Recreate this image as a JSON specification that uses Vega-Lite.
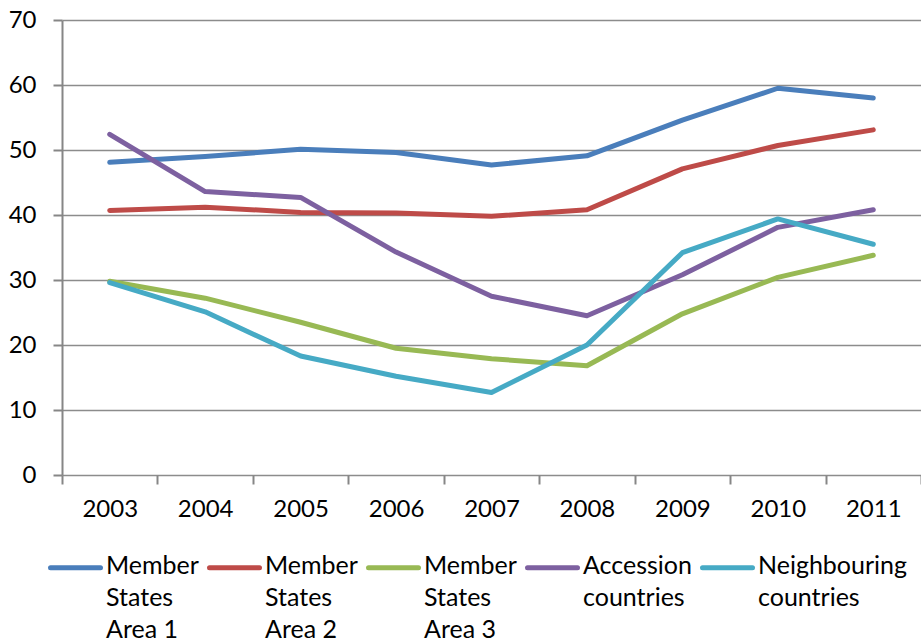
{
  "$schema": "https://vega.github.io/schema/vega-lite/v6.json",
  "width": 859,
  "height": 455,
  "autosize": {"type": "none"},
  "padding": {"left": 62, "top": 20, "right": 0, "bottom": 168},
  "background": "white",
  "config": {
    "view": {"stroke": null},
    "font": "Lato",
    "axis": {
      "labelFont": "Lato",
      "labelFontSize": 24,
      "labelColor": "#000000",
      "domainColor": "#868686",
      "domainWidth": 2,
      "tickColor": "#868686",
      "tickWidth": 2,
      "tickSize": 9,
      "gridColor": "#8c8c8c",
      "gridWidth": 1.6,
      "title": null
    }
  },
  "data": {
    "values": [
      {"year": "2003", "series": "Member|States|Area 1", "value": 48.1},
      {"year": "2004", "series": "Member|States|Area 1", "value": 49.0},
      {"year": "2005", "series": "Member|States|Area 1", "value": 50.1},
      {"year": "2006", "series": "Member|States|Area 1", "value": 49.6},
      {"year": "2007", "series": "Member|States|Area 1", "value": 47.7},
      {"year": "2008", "series": "Member|States|Area 1", "value": 49.1},
      {"year": "2009", "series": "Member|States|Area 1", "value": 54.6},
      {"year": "2010", "series": "Member|States|Area 1", "value": 59.5},
      {"year": "2011", "series": "Member|States|Area 1", "value": 58.0},
      {"year": "2003", "series": "Member|States|Area 2", "value": 40.7},
      {"year": "2004", "series": "Member|States|Area 2", "value": 41.2},
      {"year": "2005", "series": "Member|States|Area 2", "value": 40.4},
      {"year": "2006", "series": "Member|States|Area 2", "value": 40.3},
      {"year": "2007", "series": "Member|States|Area 2", "value": 39.8},
      {"year": "2008", "series": "Member|States|Area 2", "value": 40.8},
      {"year": "2009", "series": "Member|States|Area 2", "value": 47.1},
      {"year": "2010", "series": "Member|States|Area 2", "value": 50.7},
      {"year": "2011", "series": "Member|States|Area 2", "value": 53.1},
      {"year": "2003", "series": "Member|States|Area 3", "value": 29.8},
      {"year": "2004", "series": "Member|States|Area 3", "value": 27.2},
      {"year": "2005", "series": "Member|States|Area 3", "value": 23.5},
      {"year": "2006", "series": "Member|States|Area 3", "value": 19.5},
      {"year": "2007", "series": "Member|States|Area 3", "value": 17.9},
      {"year": "2008", "series": "Member|States|Area 3", "value": 16.8},
      {"year": "2009", "series": "Member|States|Area 3", "value": 24.8},
      {"year": "2010", "series": "Member|States|Area 3", "value": 30.4},
      {"year": "2011", "series": "Member|States|Area 3", "value": 33.8},
      {"year": "2003", "series": "Accession|countries", "value": 52.4},
      {"year": "2004", "series": "Accession|countries", "value": 43.6},
      {"year": "2005", "series": "Accession|countries", "value": 42.7},
      {"year": "2006", "series": "Accession|countries", "value": 34.3},
      {"year": "2007", "series": "Accession|countries", "value": 27.5},
      {"year": "2008", "series": "Accession|countries", "value": 24.5},
      {"year": "2009", "series": "Accession|countries", "value": 30.8},
      {"year": "2010", "series": "Accession|countries", "value": 38.1},
      {"year": "2011", "series": "Accession|countries", "value": 40.8},
      {"year": "2003", "series": "Neighbouring|countries", "value": 29.6},
      {"year": "2004", "series": "Neighbouring|countries", "value": 25.1},
      {"year": "2005", "series": "Neighbouring|countries", "value": 18.3},
      {"year": "2006", "series": "Neighbouring|countries", "value": 15.2},
      {"year": "2007", "series": "Neighbouring|countries", "value": 12.7},
      {"year": "2008", "series": "Neighbouring|countries", "value": 20.0},
      {"year": "2009", "series": "Neighbouring|countries", "value": 34.2},
      {"year": "2010", "series": "Neighbouring|countries", "value": 39.4},
      {"year": "2011", "series": "Neighbouring|countries", "value": 35.5}
    ]
  },
  "mark": {"type": "line", "strokeWidth": 5, "strokeCap": "round", "strokeJoin": "round"},
  "encoding": {
    "x": {
      "field": "year",
      "type": "ordinal",
      "bandPosition": 0.5,
      "scale": {"type": "band", "paddingInner": 0, "paddingOuter": 0},
      "axis": {
        "labelAngle": 0,
        "tickBand": "extent",
        "labelPadding": 13,
        "labelBaseline": "top",
        "grid": false,
        "domain": false,
        "zindex": 1
      }
    },
    "y": {
      "field": "value",
      "type": "quantitative",
      "scale": {"domain": [0, 70], "nice": false},
      "axis": {
        "values": [0, 10, 20, 30, 40, 50, 60, 70],
        "grid": true,
        "labelPadding": 17,
        "domain": true
      }
    },
    "color": {
      "field": "series",
      "type": "nominal",
      "sort": null,
      "scale": {
        "domain": ["Member|States|Area 1", "Member|States|Area 2", "Member|States|Area 3", "Accession|countries", "Neighbouring|countries"],
        "range": ["#4a7ebb", "#be4b48", "#98b954", "#7d60a0", "#46aac5"]
      },
      "legend": {
        "title": null,
        "orient": "none",
        "legendX": -14,
        "legendY": 520,
        "direction": "horizontal",
        "symbolType": "stroke",
        "symbolSize": 2500,
        "symbolStrokeWidth": 5,
        "labelFont": "Lato",
        "labelFontSize": 25,
        "labelColor": "#000000",
        "labelOffset": 3,
        "columnPadding": 0,
        "labelLimit": 300,
        "labelBaseline": "top",
        "labelExpr": "split(indexof(datum.label, 'Area') < 0 ? datum.label + '| ' : datum.label, '|')",
        "encode": {
          "labels": {"update": {"lineHeight": {"value": 32}, "dy": {"value": -14}}},
          "symbols": {"update": {"strokeCap": {"value": "round"}}}
        }
      }
    }
  }
}
